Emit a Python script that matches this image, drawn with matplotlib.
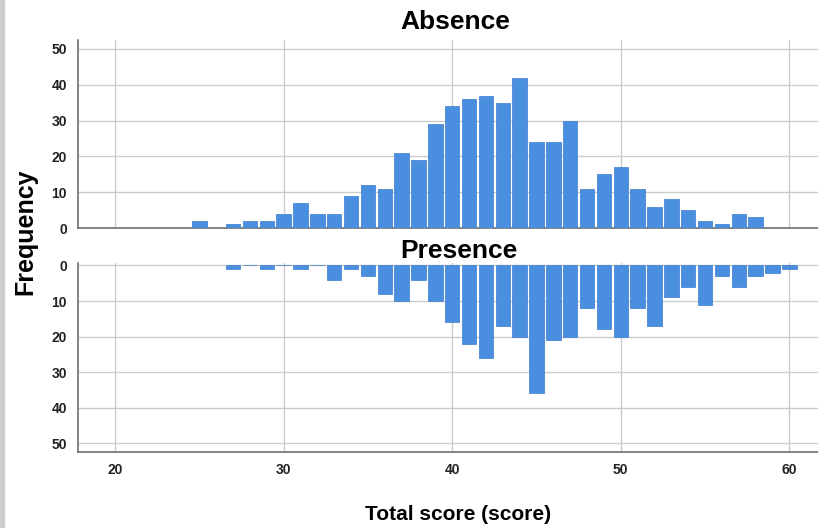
import matplotlib
matplotlib.use("Agg")
import matplotlib.pyplot as plt
from matplotlib.patches import Rectangle

# Absence group: score -> frequency
absence_scores = list(range(25, 59))
absence_freq = [2, 0, 1, 2, 2, 4, 7, 4, 4, 9, 12, 11, 21, 19, 29, 34, 36, 37, 35, 42,
                24, 24, 30, 11, 15, 17, 11, 6, 8, 5, 2, 1, 4, 3]

# Presence group: score -> frequency
presence_scores = list(range(27, 61))
presence_freq = [1, 0, 1, 0, 1, 0, 4, 1, 3, 8, 10, 4, 10, 16, 22, 26, 17, 20, 36, 21,
                 20, 12, 18, 20, 12, 17, 9, 6, 11, 3, 6, 3, 2, 1]

x_ticks = [20, 30, 40, 50, 60]
y_ticks = [0, 10, 20, 30, 40, 50]

bar_color = "#4a8ee0"
edge_color = "#3a7bd0"
grid_color = "#cccccc"
spine_color = "#707070"

plt.rcParams["font.family"] = ["Liberation Sans", "DejaVu Sans"]

fig = plt.figure(figsize=(8.18, 5.28), dpi=100)
fig.patches.append(Rectangle((0, 0), 4 / 818, 1, transform=fig.transFigure,
                             color="#cfcfcf", zorder=0))

ax_top = fig.add_axes([78 / 818, 1 - 228 / 528, 740 / 818, 188 / 528])
ax_bot = fig.add_axes([78 / 818, 1 - 452 / 528, 740 / 818, 189 / 528])

ax_top.bar(absence_scores, absence_freq, width=0.86, color=bar_color,
           edgecolor=edge_color, linewidth=0.5, zorder=3)
ax_bot.bar(presence_scores, presence_freq, width=0.86, color=bar_color,
           edgecolor=edge_color, linewidth=0.5, zorder=3)

for ax in (ax_top, ax_bot):
    ax.set_xlim(17.8, 61.7)
    ax.set_xticks(x_ticks)
    ax.set_yticks(y_ticks)
    ax.grid(True, color=grid_color, linewidth=1.0, zorder=0)
    ax.set_axisbelow(True)
    for s in ("top", "right"):
        ax.spines[s].set_visible(False)
    for s in ("left", "bottom"):
        ax.spines[s].set_color(spine_color)
        ax.spines[s].set_linewidth(1.2)
    ax.tick_params(length=0, pad=8, labelsize=10)
    for lab in ax.get_xticklabels() + ax.get_yticklabels():
        lab.set_fontweight("bold")
        lab.set_color("#222222")

ax_top.set_ylim(0, 52.5)
ax_top.tick_params(axis="x", labelbottom=False)
ax_bot.set_ylim(52.5, -0.7)

fig.text(455 / 818, 1 - 22 / 528, "Absence", fontsize=19, fontweight="bold",
         ha="center", va="center")
fig.text(459 / 818, 1 - 251 / 528, "Presence", fontsize=19, fontweight="bold",
         ha="center", va="center")

fig.text(25 / 818, 1 - 232 / 528, "Frequency", fontsize=18, fontweight="bold",
         rotation=90, ha="center", va="center")
fig.text(458 / 818, 1 - 514 / 528, "Total score (score)", fontsize=15,
         fontweight="bold", ha="center", va="center")

fig.savefig("out.png", dpi=100)
